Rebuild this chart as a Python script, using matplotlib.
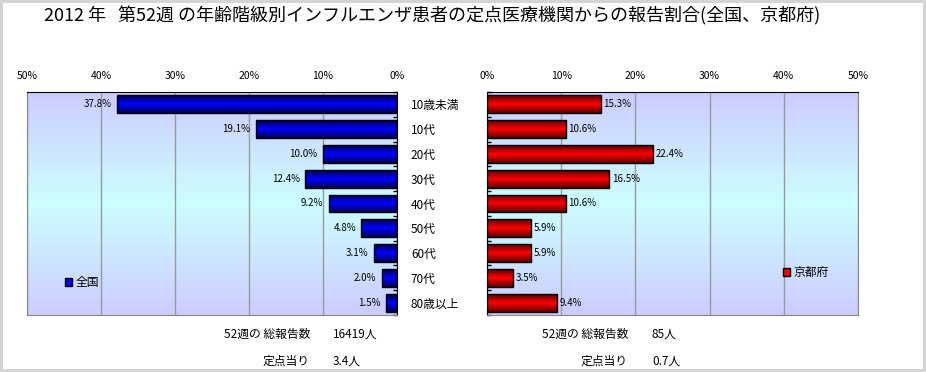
import numpy as np
import matplotlib.pyplot as plt
from matplotlib.patches import Patch

plt.rcParams['font.family'] = ['Noto Sans CJK JP', 'DejaVu Sans']

# データ（％）
ages = ['10歳未満', '10代', '20代', '30代', '40代', '50代', '60代', '70代', '80歳以上']
zenkoku = [37.8, 19.1, 10.0, 12.4, 9.2, 4.8, 3.1, 2.0, 1.5]
kyoto = [15.3, 10.6, 22.4, 16.5, 10.6, 5.9, 5.9, 3.5, 9.4]
ticks = [0, 10, 20, 30, 40, 50]

title = '2012 年   第52週 の年齢階級別インフルエンザ患者の定点医療機関からの報告割合(全国、京都府)'
total_zenkoku = '16419人'
per_zenkoku = '3.4人'
total_kyoto = '85人'
per_kyoto = '0.7人'

W, H = 926, 372
fig = plt.figure(figsize=(W / 100, H / 100), dpi=100)
fig.patch.set_edgecolor('#D4D4D4')
fig.patch.set_linewidth(3)


def px_axes(x0, y0, x1, y1):
    return fig.add_axes([x0 / W, 1 - y1 / H, (x1 - x0) / W, (y1 - y0) / H])


def gradient(c_edge, c_mid, n=64):
    t = np.abs(np.linspace(-1, 1, n))[:, None, None]
    c_edge = np.array(c_edge)[None, None, :]
    c_mid = np.array(c_mid)[None, None, :]
    return t * c_edge + (1 - t) * c_mid


bg = gradient((0.80, 0.80, 1.0), (0.80, 1.0, 1.0))
blue = gradient((0.0, 0.0, 0.30), (0.0, 0.0, 1.0))
red = gradient((0.35, 0.0, 0.0), (1.0, 0.0, 0.0))

y = np.arange(len(ages))
bh = 0.72


def draw_panel(ax, vals, grad, left_side):
    ax.imshow(bg, extent=[0, 1, 0, 1], transform=ax.transAxes, aspect='auto', zorder=0)
    bars = ax.barh(y, vals, height=bh, facecolor='none', edgecolor='black', lw=1, zorder=3)
    for b, v in zip(bars, vals):
        im = ax.imshow(grad, extent=[0, v, b.get_y(), b.get_y() + bh], aspect='auto', zorder=2)
        im.set_clip_path(b)
        if left_side:
            ax.annotate(f'{v:.1f}%', (v, b.get_y() + bh / 2), xytext=(-4, 0), textcoords='offset points',
                        ha='right', va='center', fontsize=7)
        else:
            ax.annotate(f'{v:.1f}%', (v, b.get_y() + bh / 2), xytext=(2, 0), textcoords='offset points',
                        ha='left', va='center', fontsize=7)
    ax.set_xlim((50, 0) if left_side else (0, 50))
    ax.set_ylim(len(ages) - 0.5, -0.5)
    ax.xaxis.tick_top()
    ax.set_xticks(ticks, [f'{t}%' for t in ticks], fontsize=7.5)
    ax.tick_params(axis='x', length=0, pad=8)
    ax.grid(axis='x', color='#999999', lw=1)
    ax.set_axisbelow(True)
    ax.set_yticks(np.arange(-0.5, len(ages)), minor=True)
    ax.tick_params(axis='y', which='minor', direction='in', length=3, width=1)
    for s in ax.spines.values():
        s.set_color('#888888')
    ax.spines['top'].set_color('black')
    ax.spines['right' if left_side else 'left'].set_color('black')


axL = px_axes(27, 92, 397, 315)
draw_panel(axL, zenkoku, blue, True)
axL.yaxis.tick_right()
axL.set_yticks(y, ages, fontsize=8.5)
axL.tick_params(axis='y', which='major', length=0, pad=10)
axL.tick_params(axis='y', which='minor', right=True, left=False)

axR = px_axes(487, 92, 858, 315)
draw_panel(axR, kyoto, red, False)
axR.set_yticks([])
axR.tick_params(axis='y', which='minor', left=True, right=False)

axL.legend(handles=[Patch(facecolor='#0000FF', edgecolor='black')], labels=['全国'],
           loc='center left', bbox_to_anchor=(0.075, 0.145), frameon=False,
           handlelength=0.6, handleheight=0.6, handletextpad=0.25, fontsize=8.5)
axR.legend(handles=[Patch(facecolor='#FF0000', edgecolor='black')], labels=['京都府'],
           loc='center left', bbox_to_anchor=(0.77, 0.19), frameon=False,
           handlelength=0.6, handleheight=0.6, handletextpad=0.25, fontsize=8.5)

fig.text(432 / W, 1 - 16 / H, title, ha='center', va='center', fontsize=13)

for x_lab, x_val, total, per in [(310, 333, total_zenkoku, per_zenkoku), (628, 652, total_kyoto, per_kyoto)]:
    fig.text(x_lab / W, 1 - 334 / H, '52週の 総報告数', ha='right', va='center', fontsize=8.5)
    fig.text(x_val / W, 1 - 334 / H, total, ha='left', va='center', fontsize=8.5)
    fig.text(x_lab / W, 1 - 361 / H, '定点当り', ha='right', va='center', fontsize=8.5)
    fig.text(x_val / W, 1 - 361 / H, per, ha='left', va='center', fontsize=8.5)

fig.savefig('out.png', dpi=100)
